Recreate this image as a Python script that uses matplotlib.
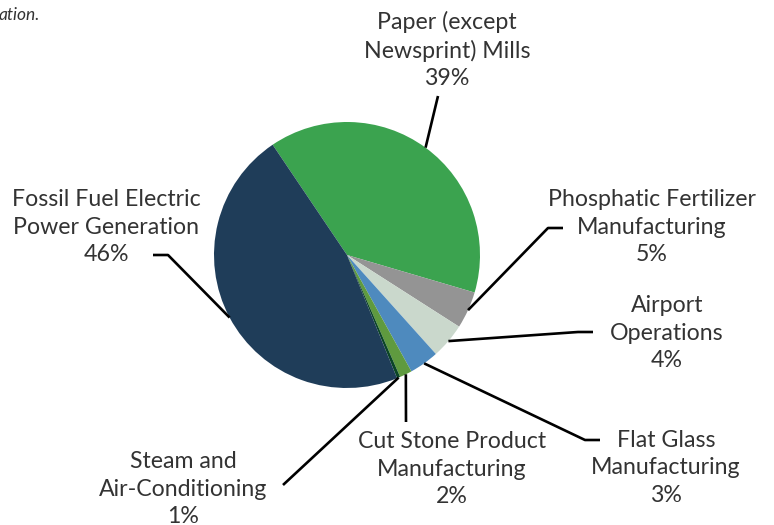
import numpy as np
import matplotlib.pyplot as plt

# slices, clockwise from the top-left boundary
names = ["Paper (except\nNewsprint) Mills", "Phosphatic Fertilizer\nManufacturing",
         "Airport\nOperations", "Flat Glass\nManufacturing",
         "Cut Stone Product\nManufacturing", "Steam and\nAir-Conditioning",
         "Fossil Fuel Electric\nPower Generation"]
shares = [39.0, 4.5, 4.3, 3.6, 1.5, 0.4, 46.7]
pct_labels = ["39%", "5%", "4%", "3%", "2%", "1%", "46%"]
colors = ["#3ba34f", "#949494", "#cad8cc", "#4e8abe", "#5f9a3f", "#0b4626", "#1f3d59"]

# label centre (x, y of middle line) and leader elbow / end, in pixels from the top-left
label_pos = [(447, 50), (652, 227), (667, 333), (666, 468), (452, 469), (183, 489), (106, 227)]
elbows = [[(438, 96)], [(548, 228), (563, 228)], [(578, 332), (593, 332)],
          [(585, 440), (600, 440)], [(406, 422)], [(283, 485)],
          [(168, 255), (153, 255)]]

W, H = 774, 525
fig = plt.figure(figsize=(W / 100, H / 100), dpi=100)
ax = fig.add_axes([0, 0, 1, 1])

cx, cy, r = 347, H - 255, 133
wedges, _ = ax.pie(shares, colors=colors, startangle=124, counterclock=False,
                   center=(cx, cy), radius=r, frame=True,
                   wedgeprops=dict(linewidth=0))
ax.set_xlim(0, W)
ax.set_ylim(0, H)
ax.set_aspect('equal')
ax.axis('off')

font = ['Lato', 'DejaVu Sans']
for w, name, pct, (lx, ly), pts in zip(wedges, names, pct_labels, label_pos, elbows):
    mid = np.deg2rad((w.theta1 + w.theta2) / 2)
    ax_pt = (cx + r * np.cos(mid), cy + r * np.sin(mid))
    xs = [ax_pt[0]] + [p[0] for p in pts]
    ys = [ax_pt[1]] + [H - p[1] for p in pts]
    ax.plot(xs, ys, color='black', lw=1.9, solid_capstyle='butt', zorder=3)
    ax.text(lx, H - ly, name + "\n" + pct, ha='center', va='center', fontsize=16.7,
            family=font, color='#333333', linespacing=1.36)

# text cut off at the top of the page
ax.text(-1, H - 15, "ation.", ha='left', va='center', fontsize=12.5,
        family=font, style='italic', color='#333333')

fig.savefig("out.png", dpi=100)
